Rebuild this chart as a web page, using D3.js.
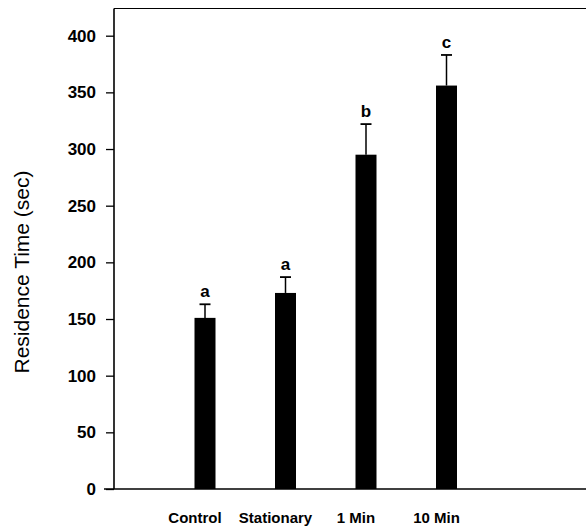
<!DOCTYPE html>
<html>
<head>
<meta charset="utf-8">
<script src="https://cdn.jsdelivr.net/npm/d3@7"></script>
<style>
  body { margin: 0; background: #fff; }
  svg { display: block; font-family: Arial, "Liberation Sans", sans-serif; }
  .tick-label { font-size: 17px; font-weight: bold; }
  .cat-label { font-size: 15px; font-weight: bold; }
  .sig-label { font-size: 17px; font-weight: bold; }
  .y-title { font-size: 21px; }
</style>
</head>
<body>
<script>
// data
const categories = ["Control", "Stationary", "1 Min", "10 Min"];
const means = [151, 173, 295, 356];
const errors = [12, 14, 27, 27];
const sigLetters = ["a", "a", "b", "c"];
const yTicks = [0, 50, 100, 150, 200, 250, 300, 350, 400];

const width = 586, height = 528;
const margin = {top: 8.5, right: -6, bottom: 39, left: 114};
const plotW = width - margin.left - margin.right,
      plotH = height - margin.top - margin.bottom;

const svg = d3.select("body").append("svg")
    .attr("width", width)
    .attr("height", height);

const g = svg.append("g")
    .attr("transform", "translate(" + margin.left + "," + margin.top + ")");

const x = d3.scalePoint()
    .domain(categories)
    .range([91, 332.5]);

const y = d3.scaleLinear()
    .domain([0, 424])
    .range([plotH, 0]);

const barW = 21, capW = 11;

// frame: top line
g.append("line")
    .attr("x1", 0).attr("x2", plotW)
    .attr("y1", 0).attr("y2", 0)
    .attr("stroke", "#000").attr("stroke-width", 1.2);

// y axis
const yAxis = g.append("g")
    .call(d3.axisLeft(y).tickValues(yTicks).tickSize(8).tickPadding(10));
yAxis.select(".domain").remove();
yAxis.append("line")
    .attr("x1", 0).attr("x2", 0)
    .attr("y1", 0).attr("y2", plotH)
    .attr("stroke", "#000").attr("stroke-width", 1.6);
yAxis.selectAll(".tick line").attr("stroke", "#000").attr("stroke-width", 1.3);
yAxis.selectAll(".tick text")
    .attr("class", "tick-label")
    .attr("fill", "#000")
    .attr("font-family", null)
    .attr("font-size", null);

// baseline (x axis)
g.append("line")
    .attr("x1", -10).attr("x2", plotW)
    .attr("y1", y(0)).attr("y2", y(0))
    .attr("stroke", "#000").attr("stroke-width", 1.4);

// bars
g.selectAll(".bar")
    .data(categories)
    .enter().append("rect")
    .attr("class", "bar")
    .attr("x", d => x(d) - barW / 2)
    .attr("width", barW)
    .attr("y", (d, i) => y(means[i]))
    .attr("height", (d, i) => y(0) - y(means[i]))
    .attr("fill", "#000");

// error bars (upper half only)
const err = g.selectAll(".err")
    .data(categories)
    .enter().append("g")
    .attr("class", "err")
    .attr("stroke", "#000")
    .attr("stroke-width", 1.5);
err.append("line")
    .attr("x1", d => x(d)).attr("x2", d => x(d))
    .attr("y1", (d, i) => y(means[i]))
    .attr("y2", (d, i) => y(means[i] + errors[i]));
err.append("line")
    .attr("x1", d => x(d) - capW / 2).attr("x2", d => x(d) + capW / 2)
    .attr("y1", (d, i) => y(means[i] + errors[i]))
    .attr("y2", (d, i) => y(means[i] + errors[i]))
    .attr("stroke-width", 1.8);

// significance letters
g.selectAll(".sig")
    .data(categories)
    .enter().append("text")
    .attr("class", "sig-label")
    .attr("x", d => x(d))
    .attr("y", (d, i) => y(means[i] + errors[i]) - 7)
    .attr("text-anchor", "middle")
    .text((d, i) => sigLetters[i]);

// category labels
g.selectAll(".cat")
    .data(categories)
    .enter().append("text")
    .attr("class", "cat-label")
    .attr("x", d => x(d) - 10)
    .attr("y", plotH + 34)
    .attr("text-anchor", "middle")
    .text(d => d);

// y title
svg.append("text")
    .attr("class", "y-title")
    .attr("transform", "translate(29,272) rotate(-90)")
    .attr("text-anchor", "middle")
    .text("Residence Time (sec)");
</script>
</body>
</html>
